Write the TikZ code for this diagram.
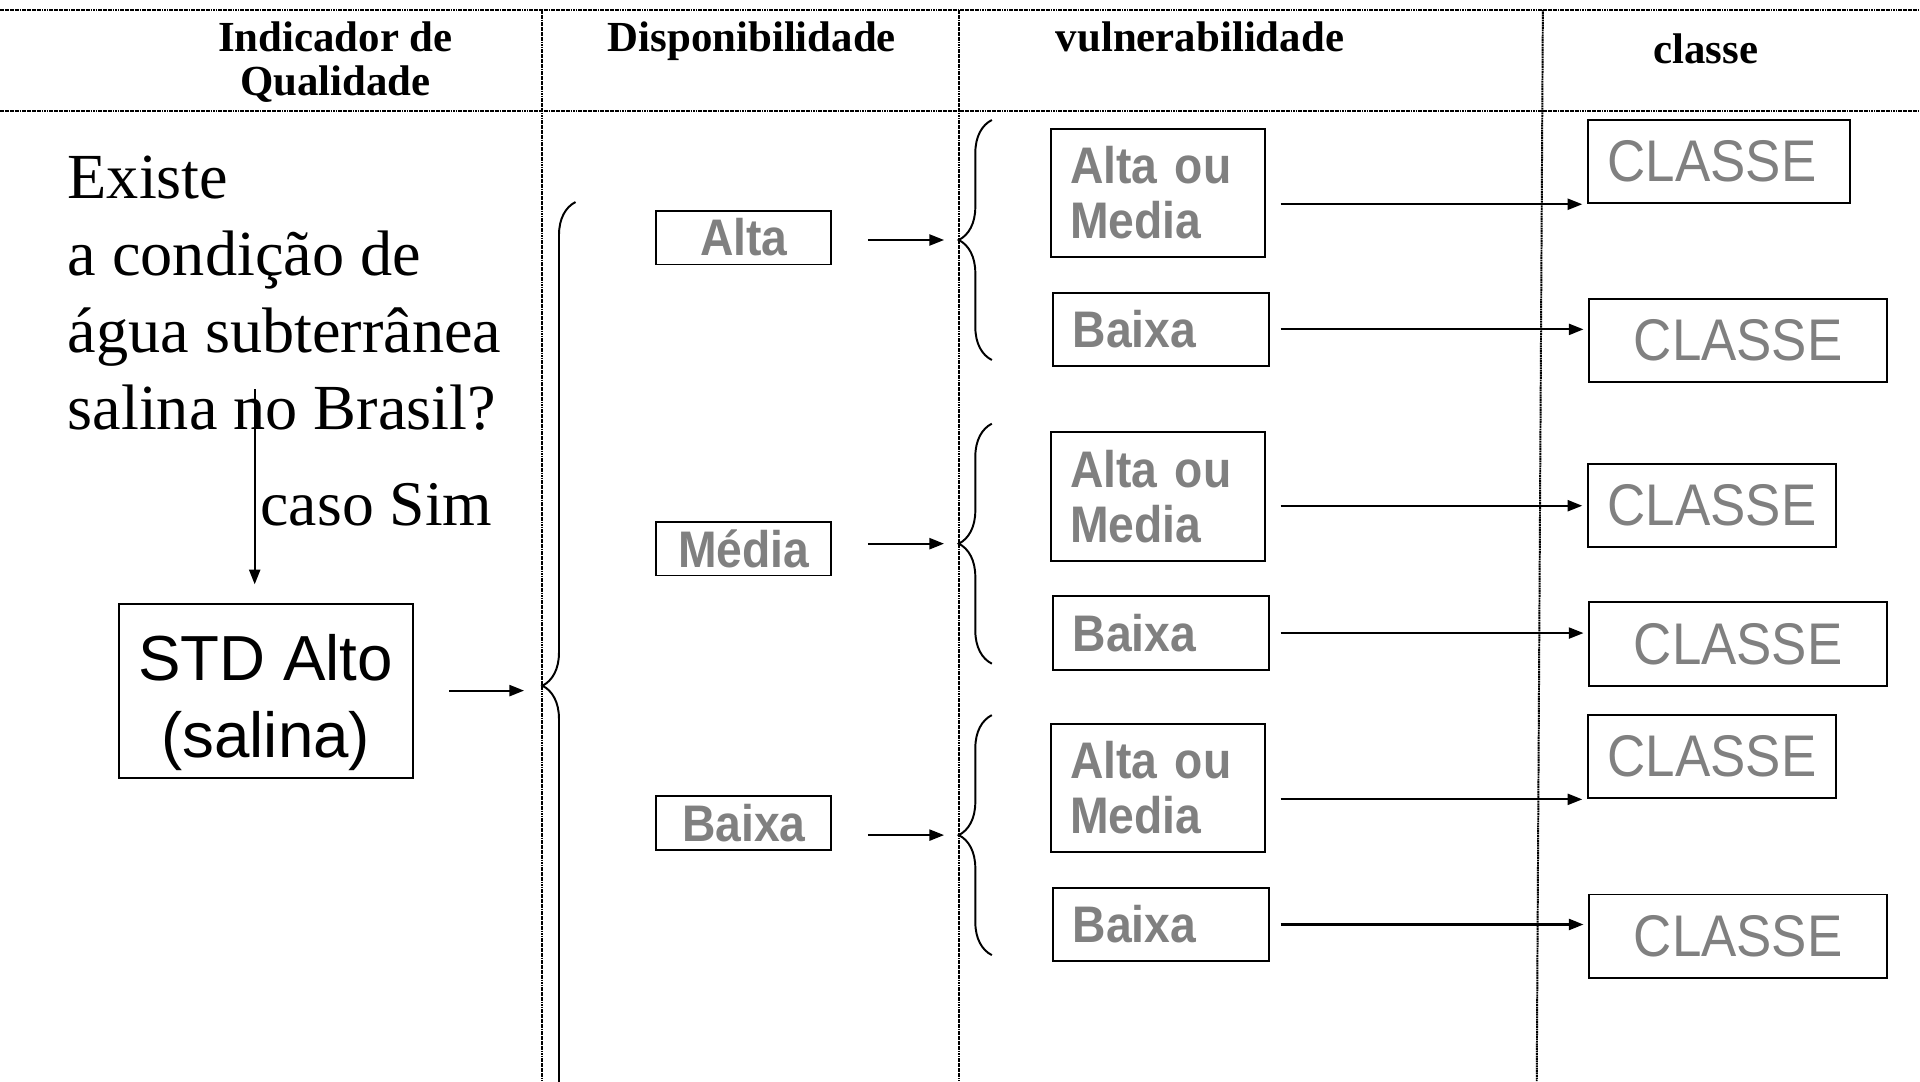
\documentclass[tikz,border=0pt]{standalone}
\usepackage{fontspec}
\setmainfont{Liberation Serif}
\setsansfont{Liberation Sans}
\newfontfamily\narrowsans[FakeStretch=0.9]{Liberation Sans}
\usetikzlibrary{arrows.meta,positioning,decorations.pathreplacing}
\definecolor{boxgray}{RGB}{128,128,128}

\begin{document}
\begin{tikzpicture}[
  x=1pt,y=-1pt,
  grid/.style={line width=1.6pt,dash pattern=on 1.5pt off 0.5pt},
  head/.style={font=\bfseries\fontsize{35}{36}\selectfont,align=center,inner sep=0pt},
  boxline/.style={draw,line width=1.6pt,inner sep=0pt},
  disp/.style={boxline,minimum width=143pt,minimum height=44pt,text=boxgray,font=\narrowsans\bfseries\fontsize{42}{45}\selectfont},
  vuln/.style={boxline,inner xsep=16pt,align=left,text=boxgray,font=\narrowsans\bfseries\fontsize{42}{45}\selectfont},
  classe/.style={boxline,minimum height=68pt,text=boxgray,font=\narrowsans\fontsize{48}{48}\selectfont},
  arr/.style={line width=1.8pt,-{Triangle[length=12pt,width=9pt]}},
  brc/.style={line width=1.6pt,decorate,decoration={brace,amplitude=27pt}}
]
  \useasboundingbox (0,0) rectangle (1568,883);

  % table lines
  \draw[grid] (0,8) -- (1568,8);
  \draw[grid] (0,91) -- (1568,91);
  \draw[grid] (443,8) -- (443,883);
  \draw[grid] (783,8) -- (783,883);
  \draw[grid] (1260,8) -- (1255,883);

  % headers
  \node[head,anchor=base] (hind) at (274,78) {Indicador de\\Qualidade};
  \node[head,anchor=base] (hdisp) at (614,42) {Disponibilidade};
  \node[head,anchor=base] (hvuln) at (980,42) {vulnerabilidade};
  \node[head,anchor=base] (hcls) at (1393,52) {classe};

  % question
  \node[anchor=north west,align=left,inner sep=0pt,font=\fontsize{52.5}{63}\selectfont] (quest) at (55,127)
    {Existe\\a condição de\\água subterrânea\\salina no Brasil?};
  \coordinate (qa) at (208,318);
  \node[boxline,minimum width=240pt,minimum height=142pt,align=center,font=\sffamily\fontsize{52}{63}\selectfont] (std) at (217,564)
    {\rule{0pt}{57pt}STD Alto\\(salina)};
  \draw[arr,shorten >=15pt] (qa) -- node[pos=0.54,right,inner sep=4pt,font=\fontsize{52}{63}\selectfont] (sim) {caso Sim} (qa |- std.north);

  % big brace
  \coordinate (bigtip) at (443,560);
  \draw[brc] (470,955) -- (470,165);
  \draw[arr,shorten <=29pt,shorten >=15pt] (std.east) -- (std.east -| bigtip);

  % disponibilidade
  \node[disp] (alta) at (607.5,194) {Alta};
  \node[disp] (media) at (607.5,448) {Média};
  \node[disp] (baixa) at (607.5,672) {Baixa};

  \coordinate (tipa) at (783,196);
  \coordinate (tipb) at (783,444);
  \coordinate (tipc) at (783,682);
  \draw[brc] (810,294) -- (810,98);
  \draw[brc] (810,542) -- (810,346);
  \draw[brc] (810,780) -- (810,584);
  \draw[arr,shorten <=29pt,shorten >=12pt] (alta.east |- tipa) -- (tipa);
  \draw[arr,shorten <=29pt,shorten >=12pt] (media.east |- tipb) -- (tipb);
  \draw[arr,shorten <=29pt,shorten >=12pt] (baixa.east |- tipc) -- (tipc);

  % vulnerabilidade
  \node[vuln,text width=143pt,minimum height=105pt] (v1) at (945.5,157.5) {Alta ou\\Media};
  \node[vuln,text width=144pt,minimum height=60pt] (v2) at (948,269) {Baixa};
  \node[vuln,text width=143pt,minimum height=105pt] (v3) at (945.5,405.5) {Alta ou\\Media};
  \node[vuln,text width=144pt,minimum height=60pt] (v4) at (948,517) {Baixa};
  \node[vuln,text width=143pt,minimum height=105pt] (v5) at (945.5,643.5) {Alta ou\\Media};
  \node[vuln,text width=144pt,minimum height=60pt] (v6) at (948,755) {Baixa};

  % classe
  \node[classe,text width=182pt,inner xsep=16pt,align=left] (c1) at (1404,132) {CLASSE};
  \node[classe,minimum width=243pt] (c2) at (1419.5,278) {CLASSE};
  \node[classe,text width=170pt,inner xsep=16pt,align=left] (c3) at (1398,413) {CLASSE};
  \node[classe,minimum width=243pt] (c4) at (1419.5,526) {CLASSE};
  \node[classe,text width=170pt,inner xsep=16pt,align=left] (c5) at (1398,618) {CLASSE};
  \node[classe,minimum width=243pt] (c6) at (1419.5,764.5) {CLASSE};

  \draw[arr,shorten <=12pt,shorten >=4pt] (v1.east |- c1.south west) -- (c1.south west);
  \draw[arr,shorten <=9pt,shorten >=4pt] (v2.east) -- (v2.east -| c2.west);
  \draw[arr,shorten <=12pt,shorten >=4pt] (v3.east |- c3.west) -- (c3.west);
  \draw[arr,shorten <=9pt,shorten >=4pt] (v4.east) -- (v4.east -| c4.west);
  \draw[arr,shorten <=12pt,shorten >=4pt] (v5.east |- c5.south west) -- (c5.south west);
  \draw[arr,shorten <=9pt,shorten >=4pt] (v6.east) -- (v6.east -| c6.west);
\end{tikzpicture}
\end{document}
